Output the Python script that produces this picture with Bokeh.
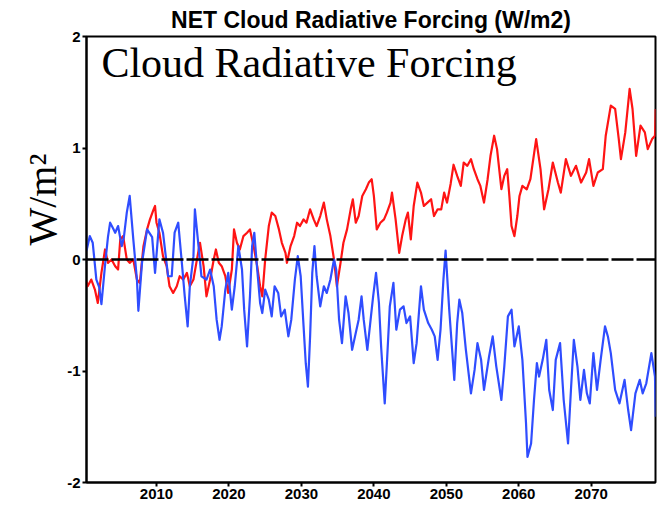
from bokeh.plotting import figure
from bokeh.models import Range1d, FixedTicker, Span, Label, ColumnDataSource, Title
from bokeh.embed import file_html
from bokeh.resources import INLINE

# ---------------- data ----------------
red_years = [
    2000.35, 2000.5, 2001.0, 2001.5, 2001.9, 2002.4, 2002.9, 2003.3, 2003.8, 2004.3,
    2004.7, 2005.0, 2005.4, 2005.9, 2006.3, 2006.8, 2007.3, 2007.7, 2008.2, 2008.7,
    2009.1, 2009.6, 2009.8, 2010.0, 2010.4, 2010.9, 2011.4, 2011.8, 2012.3, 2012.8,
    2013.2, 2013.7, 2014.2, 2014.6, 2015.1, 2015.5, 2016.0, 2016.5, 2016.9, 2017.4,
    2017.9, 2018.2, 2018.6, 2019.0, 2019.5, 2019.9, 2020.4, 2020.7, 2021.1, 2021.5,
    2022.0, 2022.5, 2022.9, 2023.4, 2023.9, 2024.3, 2024.6, 2025.0, 2025.5, 2025.9,
    2026.4, 2026.9, 2027.3, 2027.8, 2028.0, 2028.5, 2029.0, 2029.4, 2029.8, 2030.3,
    2030.7, 2031.2, 2031.7, 2032.1, 2032.6, 2033.1, 2033.5, 2034.0, 2034.5, 2034.9,
    2035.4, 2035.8, 2036.3, 2036.8, 2037.1, 2037.5, 2037.9, 2038.4, 2038.9, 2039.3,
    2039.7, 2040.0, 2040.4, 2040.9, 2041.4, 2041.8, 2042.3, 2042.5, 2043.0, 2043.5,
    2043.9, 2044.4, 2044.7, 2045.1, 2045.5, 2046.0, 2046.5, 2046.9, 2047.4, 2047.9,
    2048.3, 2048.8, 2049.3, 2049.7, 2050.1, 2050.6, 2051.0, 2051.5, 2052.0, 2052.4,
    2052.9, 2053.4, 2053.8, 2054.3, 2054.7, 2055.2, 2055.7, 2056.1, 2056.6, 2057.0,
    2057.3, 2057.6, 2058.0, 2058.4, 2058.7, 2059.0, 2059.4, 2059.8, 2060.1, 2060.5,
    2061.1, 2061.6, 2062.4, 2063.0, 2063.5, 2064.1, 2064.7, 2065.4, 2065.8, 2066.5,
    2067.2, 2067.9, 2068.6, 2069.3, 2069.7, 2070.3, 2070.9, 2071.6, 2072.0, 2072.7,
    2073.3, 2073.8, 2074.1, 2074.7, 2075.3, 2075.7, 2076.2, 2076.8, 2077.4, 2077.8,
    2078.4, 2078.8, 2078.9,
]
red_values = [
    -0.20, -0.24, -0.18, -0.27, -0.39, -0.12, 0.09, -0.03, 0.00, -0.06,
    -0.09, 0.18, 0.21, 0.00, -0.03, 0.00, -0.18, -0.21, 0.12, 0.27,
    0.36, 0.45, 0.48, 0.33, 0.24, 0.03, -0.06, -0.24, -0.30, -0.24,
    -0.15, -0.18, -0.12, -0.24, -0.18, -0.03, 0.15, -0.06, -0.33, -0.18,
    0.00, 0.09, -0.03, -0.06, -0.15, -0.30, -0.09, 0.27, 0.15, 0.09,
    0.21, 0.24, 0.27, 0.12, -0.06, -0.24, -0.33, 0.00, 0.30, 0.42,
    0.39, 0.27, 0.15, 0.06, -0.03, 0.12, 0.21, 0.33, 0.30, 0.36,
    0.33, 0.45, 0.36, 0.30, 0.39, 0.51, 0.36, 0.21, 0.00, -0.24,
    -0.03, 0.15, 0.27, 0.45, 0.54, 0.33, 0.39, 0.57, 0.63, 0.69,
    0.72, 0.57, 0.27, 0.33, 0.36, 0.42, 0.51, 0.60, 0.36, 0.06,
    0.21, 0.36, 0.42, 0.18, 0.48, 0.69, 0.60, 0.48, 0.51, 0.54,
    0.39, 0.45, 0.45, 0.60, 0.51, 0.68, 0.85, 0.75, 0.66, 0.87,
    0.84, 0.90, 0.81, 0.72, 0.66, 0.51, 0.72, 0.93, 1.11, 0.99,
    0.81, 0.63, 0.75, 0.81, 0.57, 0.30, 0.21, 0.39, 0.57, 0.66,
    0.63, 0.72, 1.08, 0.81, 0.45, 0.63, 0.87, 0.69, 0.60, 0.90,
    0.75, 0.84, 0.69, 0.78, 0.90, 0.66, 0.78, 0.81, 1.11, 1.38,
    1.35, 1.08, 0.90, 1.14, 1.53, 1.35, 0.93, 1.20, 1.14, 0.99,
    1.08, 1.11, 1.35,
]

blue_years = [
    2000.35, 2000.8, 2001.2, 2001.7, 2002.1, 2002.4, 2002.9, 2003.3, 2003.6, 2004.0,
    2004.3, 2004.7, 2005.2, 2005.5, 2005.9, 2006.3, 2006.8, 2007.3, 2007.5, 2008.0,
    2008.7, 2009.4, 2009.8, 2010.4, 2010.9, 2011.6, 2012.1, 2012.5, 2013.0, 2013.5,
    2013.9, 2014.3, 2014.6, 2015.1, 2015.3, 2015.8, 2016.2, 2016.9, 2017.4, 2017.9,
    2018.3, 2018.7, 2019.0, 2019.5, 2019.9, 2020.4, 2020.8, 2021.3, 2021.8, 2022.1,
    2022.5, 2022.9, 2023.2, 2023.5, 2023.9, 2024.3, 2024.6, 2025.0, 2025.5, 2025.9,
    2026.3, 2026.8, 2027.2, 2027.7, 2028.2, 2028.6, 2029.1, 2029.5, 2029.9, 2030.3,
    2030.6, 2030.9, 2031.2, 2031.5, 2031.8, 2032.1, 2032.6, 2033.1, 2033.5, 2034.0,
    2034.5, 2034.8, 2035.2, 2035.6, 2036.1, 2036.5, 2037.0, 2037.5, 2037.9, 2038.3,
    2038.6, 2039.1, 2039.6, 2039.9, 2040.3, 2040.7, 2041.0, 2041.5, 2041.8, 2042.2,
    2042.7, 2043.1, 2043.6, 2044.1, 2044.5, 2045.0, 2045.5, 2045.9, 2046.5, 2046.9,
    2047.5, 2048.0, 2048.4, 2048.8, 2049.2, 2049.6, 2049.9, 2050.4, 2051.1, 2051.5,
    2051.8, 2052.2, 2052.7, 2053.4, 2053.9, 2054.3, 2054.8, 2055.2, 2055.9, 2056.4,
    2056.9, 2057.6, 2058.0, 2058.5, 2059.0, 2059.4, 2060.0, 2060.5, 2061.0, 2061.2,
    2061.7, 2062.1, 2062.5, 2062.8, 2063.3, 2063.8, 2064.2, 2064.7, 2065.1, 2065.7,
    2066.2, 2066.8, 2067.2, 2067.6, 2068.1, 2068.5, 2069.0, 2069.4, 2069.8, 2070.3,
    2070.8, 2071.3, 2071.9, 2072.3, 2072.7, 2073.3, 2073.9, 2074.6, 2075.1, 2075.5,
    2076.1, 2076.7, 2077.1, 2077.6, 2078.3, 2078.8, 2078.9,
]
blue_values = [
    0.08, 0.21, 0.15, -0.18, -0.25, -0.40, -0.05, 0.20, 0.33, 0.28,
    0.24, 0.30, 0.12, 0.20, 0.42, 0.57, 0.18, -0.18, -0.46, -0.03,
    0.27, 0.20, -0.12, 0.36, 0.24, -0.15, -0.15, 0.24, 0.33, -0.03,
    -0.33, -0.60, -0.24, 0.03, 0.45, 0.12, -0.15, -0.18, -0.09, -0.24,
    -0.54, -0.72, -0.60, -0.27, -0.12, -0.45, -0.24, 0.12, -0.09, -0.45,
    -0.78, -0.33, 0.12, 0.24, -0.09, -0.39, -0.48, -0.27, -0.36, -0.51,
    -0.24, -0.30, -0.51, -0.45, -0.69, -0.54, -0.18, 0.03, -0.15, -0.60,
    -0.93, -1.14, -0.69, -0.12, 0.12, -0.15, -0.42, -0.24, -0.30, -0.18,
    0.00, -0.09, -0.54, -0.75, -0.33, -0.48, -0.81, -0.66, -0.54, -0.33,
    -0.54, -0.81, -0.51, -0.33, -0.12, -0.39, -0.78, -1.29, -0.93, -0.42,
    -0.21, -0.63, -0.45, -0.42, -0.57, -0.51, -0.93, -0.75, -0.24, -0.45,
    -0.57, -0.63, -0.69, -0.90, -0.63, -0.18, 0.08, -0.45, -1.08, -0.57,
    -0.36, -0.48, -0.81, -1.20, -0.99, -0.75, -0.90, -1.17, -0.87, -0.69,
    -0.96, -1.26, -0.96, -0.51, -0.45, -0.78, -0.60, -0.90, -1.47, -1.77,
    -1.65, -1.26, -0.93, -1.05, -0.90, -0.72, -1.17, -1.35, -0.90, -0.75,
    -1.26, -1.65, -1.17, -0.72, -0.96, -1.26, -0.99, -1.20, -1.29, -0.84,
    -1.17, -0.90, -0.60, -0.69, -0.84, -1.17, -1.29, -1.08, -1.35, -1.53,
    -1.20, -1.08, -1.20, -1.11, -0.84, -1.05, -1.41,
]

x_ticks = [2010, 2020, 2030, 2040, 2050, 2060, 2070]
y_ticks = [-2, -1, 0, 1, 2]
y_tick_labels = ["-2", "-1", "0", "1", "2"]

title_text = "NET Cloud Radiative Forcing (W/m2)"
inner_text = "Cloud Radiative Forcing"
y_label_text = "W/m\u00b2"

# ---------------- figure ----------------
p = figure(
    width=660, height=505,
    x_range=Range1d(2000.34, 2078.87), y_range=Range1d(-2, 2),
    output_backend="svg", toolbar_location=None,
    min_border_left=86, min_border_right=5, min_border_top=36, min_border_bottom=23,
    background_fill_color="white", border_fill_color="white",
)
p.title.text = title_text
p.title.align = "center"
p.title.text_font = "Liberation Sans"
p.title.text_font_style = "bold"
p.title.text_font_size = "23px"
p.title.text_color = "black"
p.title.standoff = 7

p.add_layout(Title(text=y_label_text, align="left", offset=237,
                   text_font="Liberation Serif", text_font_style="normal",
                   text_font_size="40px", text_color="black", standoff=0), "left")

p.xgrid.visible = False
p.ygrid.visible = False
p.outline_line_color = "black"
p.outline_line_width = 2
p.outline_line_alpha = 1

for ax in (p.xaxis[0], p.yaxis[0]):
    ax.axis_line_color = "black"
    ax.axis_line_width = 2
    ax.major_tick_line_color = "black"
    ax.major_tick_line_width = 2
    ax.major_tick_in = 0
    ax.major_tick_out = 4
    ax.minor_tick_line_color = None
    ax.major_label_text_font = "Liberation Sans"
    ax.major_label_text_font_style = "bold"
    ax.major_label_text_font_size = "15px"
    ax.major_label_text_color = "black"
    ax.major_label_standoff = 2

p.xaxis.ticker = FixedTicker(ticks=x_ticks, minor_ticks=[])
p.yaxis.ticker = FixedTicker(ticks=y_ticks, minor_ticks=[])
p.yaxis.major_label_overrides = {t: s for t, s in zip(y_ticks, y_tick_labels)}
p.xaxis.major_label_overrides = {t: str(t) for t in x_ticks}

red_src = ColumnDataSource(dict(x=red_years, y=red_values))
blue_src = ColumnDataSource(dict(x=blue_years, y=blue_values))

p.line("x", "y", source=red_src, line_color="#ff1414", line_width=2.2, line_join="round")
p.line("x", "y", source=blue_src, line_color="#2f4dff", line_width=2.2, line_join="round")

p.add_layout(Span(location=0, dimension="width", line_color="black",
                  line_width=2.5, line_dash="22 3"))

p.add_layout(Label(x=2002.4, y=1.765, text=inner_text, text_align="left",
                   text_baseline="alphabetic", text_font="Liberation Serif",
                   text_font_size="42px", text_color="black"))

open("out.html", "w").write(file_html(p, INLINE))
